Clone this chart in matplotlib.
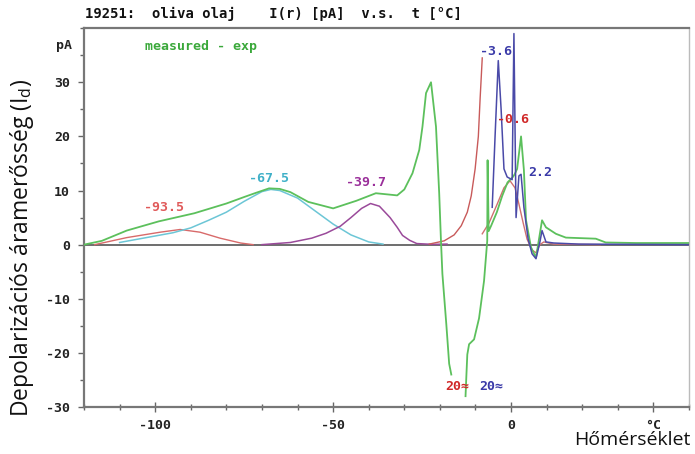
import numpy as np
import matplotlib
matplotlib.use("Agg")
import matplotlib.pyplot as plt
from matplotlib.ticker import MultipleLocator, FixedLocator, FixedFormatter

plt.rcParams['mathtext.fontset'] = 'custom'
plt.rcParams['mathtext.rm'] = 'Open Sans'
plt.rcParams['mathtext.it'] = 'Open Sans'

# ---- data ----
green_x = [-120, -115, -108, -99, -89, -80, -75, -72, -68, -65, -62, -57, -50, -43.5, -38, -35, -32,
           -30, -27.7, -25.8, -24.9, -23.9, -22.5, -21.1, -20.2, -19.7, -19.3, -18.2, -17.4, -16.8,
           np.nan,
           -12.8, -12.6, -12.3, -11.8, -10.4, -9.0, -7.6, -6.7, -6.6, -6.3, -5.6, -4.0, -2.5, -1.0, 0.5,
           1.0, 1.7, 2.8, 3.6, 4.2, 5.6, 7.0, 8.7, 9.8, 12.6, 15.4, 23.8, 26.6, 35, 50]
green_y = [0, 0.7, 2.6, 4.3, 5.8, 7.6, 8.8, 9.5, 10.4, 10.3, 9.7, 7.9, 6.7, 8.1, 9.5, 9.3, 9.1,
           10.2, 13.2, 17.5, 21.8, 28, 30, 21.8, 9.5, 0.7, -5.4, -14.7, -22, -24,
           np.nan,
           -28.0, -24.8, -20.3, -18.4, -17.5, -13.6, -6.7, 0.7, 15.6, 2.5, 3.5, 6, 9, 11.5, 12.5,
           13, 14, 20, 13.8, 4.5, -0.5, -2.4, 4.5, 3.2, 2.0, 1.3, 1.1, 0.4, 0.3, 0.3]

red1_x = [-117, -108, -98.6, -93, -87.4, -81.8, -76, -72.5]
red1_y = [0, 1.3, 2.3, 2.8, 2.3, 1.2, 0.3, 0]

cyan_x = [-110, -105, -100, -95, -90, -85, -80, -75, -70, -67.5, -65, -60, -55, -50, -45, -40, -36]
cyan_y = [0.4, 1.0, 1.6, 2.2, 3.1, 4.5, 6.0, 8.0, 9.8, 10.2, 10.0, 8.6, 6.2, 3.8, 1.8, 0.5, 0.1]

purple_x = [-70, -62, -56, -52, -48, -45, -42, -39.5, -37, -34, -32, -30.5, -28.5, -26.5, -22, -18]
purple_y = [0, 0.4, 1.2, 2.1, 3.4, 5.0, 6.7, 7.6, 7.1, 5.0, 3.2, 1.7, 0.8, 0.2, 0.05, 0.1]

red2_x = [-23, -18.8, -16, -14, -12.3, -11.2, -10.1, -9.2, -8.7, -8.1]
red2_y = [0.1, 0.7, 1.8, 3.5, 6, 9, 14, 20, 27, 34.5]

red3_x = [-8.1, -6.2, -3.9, -2.0, -0.3, 1.1, 2.2, 3.4, 4.5, 5.9, 7.0, 8.1, 9.2, 12, 25]
red3_y = [2, 4, 7.5, 10.5, 11.8, 10.5, 7.5, 4, 1, -1, -1.5, 0, 0.5, 0.1, 0]

navy_x = [-5.3, -4.5, -3.6, -2.8, -2.0, -1.1, 0.3, 0.8, 1.4, 2.2, 2.8, 3.6, 4.8, 5.9, 7.0, 8.1,
          8.7, 9.8, 12, 19, 50]
navy_y = [6.9, 20, 34, 25, 14, 12.5, 12, 39, 5, 12.7, 13, 6.9, 1, -1.7, -2.6, 0.5,
          2.6, 0.5, 0.3, 0.1, 0.0]

peak_labels = ["-93.5", "-67.5", "-39.7", "-3.6", "-0.6", "2.2", "20\u2248", "20\u2248"]
peak_lx = [-97.5, -68.1, -40.9, -4.3, 0.6, 8.2, -15.1, -5.6]
peak_ly = [6.9, 12.3, 11.5, 35.6, 23.1, 13.4, -26.3, -26.3]
peak_col = ["#e05a5a", "#3fb0c8", "#9a2f9a", "#3a3aa8", "#d02828", "#3a3aa8", "#d02828", "#3a3aa8"]

xtick_major = [-100, -50, 0, 40]
xtick_labels = ["-100", "-50", "0", "\u00b0C"]
ytick_major = [-30, -20, -10, 0, 10, 20, 30]
ytick_labels = ["-30", "-20", "-10", "0", "10", "20", "30"]

# ---- figure ----
fig = plt.figure(figsize=(6.95, 4.54), dpi=100)
ax = fig.add_axes([0.1209, 0.1035, 0.8705, 0.8345])
ax.set_xlim(-120, 50)
ax.set_ylim(-30, 40)

mono = dict(family='DejaVu Sans Mono', weight='bold')

ax.axhline(0, color='#555555', lw=1.2, zorder=1)

ax.plot(red1_x, red1_y, color='#d86a6a', lw=1.0, zorder=2)
ax.plot(cyan_x, cyan_y, color='#6cc6d6', lw=1.1, zorder=2)
ax.plot(purple_x, purple_y, color='#9a4a9a', lw=1.1, zorder=2)
ax.plot(red2_x, red2_y, color='#c85a5a', lw=1.0, zorder=2)
ax.plot(red3_x, red3_y, color='#d07070', lw=1.0, zorder=2)
ax.plot(green_x, green_y, color='#5cc05c', lw=1.3, zorder=3)
ax.plot(navy_x, navy_y, color='#4a4aa8', lw=1.1, zorder=4)

for t, x, y, c in zip(peak_labels, peak_lx, peak_ly, peak_col):
    ax.text(x, y, t, color=c, ha='center', va='center', fontsize=9.5, zorder=5, **mono)

ax.text(-103, 36.6, "measured - exp", color='#3aa83a', ha='left', va='center', fontsize=9.5, **mono)

# ticks
ax.xaxis.set_major_locator(FixedLocator(xtick_major))
ax.xaxis.set_major_formatter(FixedFormatter(xtick_labels))
ax.xaxis.set_minor_locator(MultipleLocator(10))
ax.yaxis.set_major_locator(FixedLocator(ytick_major))
ax.yaxis.set_major_formatter(FixedFormatter(ytick_labels))
ax.yaxis.set_minor_locator(MultipleLocator(5))
ax.tick_params(axis='x', which='major', direction='inout', length=7, width=1.0, color='#666666', pad=5)
ax.tick_params(axis='x', which='minor', direction='inout', length=4, width=1.0, color='#666666')
ax.tick_params(axis='y', which='major', direction='out', length=4, width=1.0, color='#666666', pad=6)
ax.tick_params(axis='y', which='minor', direction='out', length=3, width=1.0, color='#666666')
for lab in ax.get_xticklabels() + ax.get_yticklabels():
    lab.set_fontfamily('DejaVu Sans Mono')
    lab.set_fontweight('bold')
    lab.set_fontsize(9.5)
    lab.set_color('#222222')

for s in ['left', 'bottom', 'top']:
    ax.spines[s].set_color('#777777')
    ax.spines[s].set_linewidth(1.6)
ax.spines['right'].set_color('#bbbbbb')
ax.spines['right'].set_linewidth(1.0)

ax.text(-0.02, 0.955, "pA", transform=ax.transAxes, ha='right', va='center', color='#222222',
        fontsize=9.5, **mono)

fig.text(85 / 695, 1 - 14 / 454, "19251:  oliva olaj    I(r) [pA]  v.s.  t [\u00b0C]",
         ha='left', va='center', fontsize=10, color='#111111', **mono)

fig.text(22 / 695, 1 - 248 / 454, "Depolarizációs áramerősség (I$_{\\mathrm{d}}$)", rotation=90,
         ha='center', va='center', fontsize=16.5, family='Open Sans', color='#111111')
fig.text(690 / 695, 1 - 440 / 454, "Hőmérséklet", ha='right', va='center', fontsize=14,
         family='Open Sans', color='#111111')

fig.savefig("out.png", dpi=100)
